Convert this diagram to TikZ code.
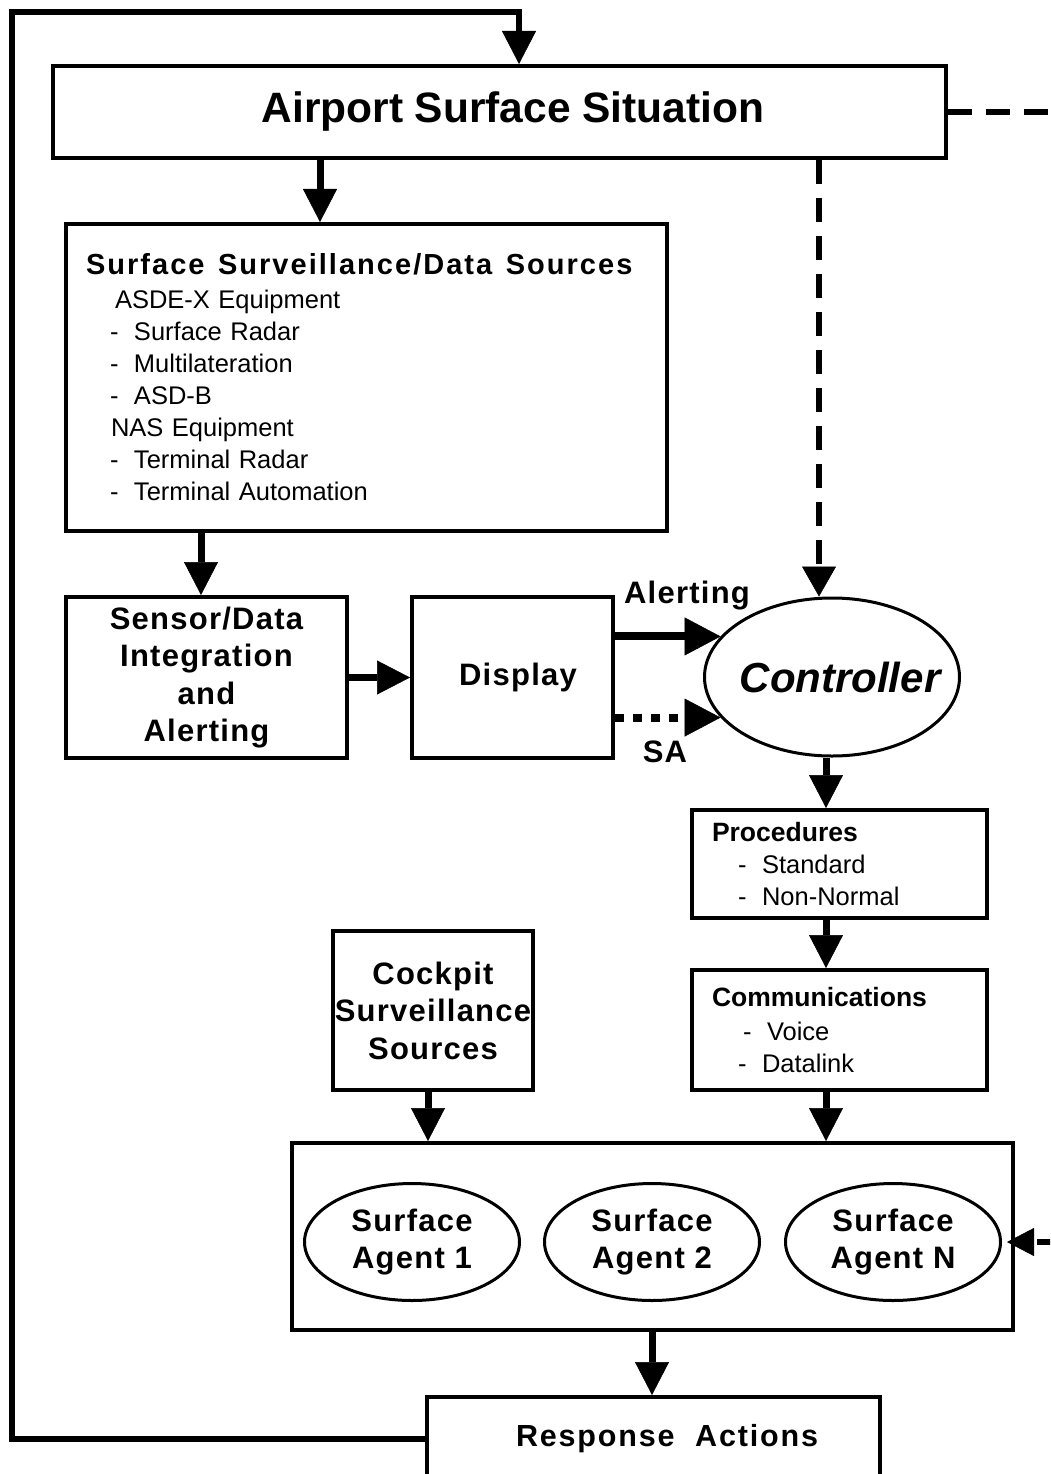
\documentclass[tikz,border=0pt]{standalone}
\usepackage{fontspec}
\setmainfont{Liberation Sans}
\newfontfamily\titlefamily[LetterSpace=7]{Liberation Sans}
\usetikzlibrary{arrows.meta,shapes.geometric}

% font sizes used in the chart
\newcommand\fbig{\fontsize{42.5}{50}\selectfont\bfseries}
\newcommand\fctl{\fontsize{42}{50}\selectfont\bfseries\itshape}
\newcommand\ftitle{\titlefamily\fontsize{29}{34}\selectfont\bfseries}
\newcommand\fmid{\fontsize{31}{37.5}\selectfont\bfseries\addfontfeature{LetterSpace=4}}
\newcommand\fresp{\fontsize{30.5}{36}\selectfont\bfseries\addfontfeature{LetterSpace=6}}
\newcommand\fsmall{\fontsize{26.5}{32}\selectfont\bfseries}
\newcommand\freg{\fontsize{25.5}{32}\selectfont}
% wider word gap for the letter-spaced heading
\newcommand\wsp{\ \hspace{5pt}}
% indented list entry: indent, dash, text
\newcommand\itm[2]{\hspace*{#1}\makebox[24pt][l]{-}#2}

\begin{document}
\begin{tikzpicture}[x=1pt,y=-1pt,
  box/.style={draw, line width=4pt, rectangle, inner sep=0pt},
  agent/.style={draw, ellipse, line width=3pt, minimum width=215, minimum height=117, inner sep=0pt},
  arr/.style={line width=7pt, -{Triangle[length=33pt,width=34pt,line width=0.5pt]}},
  arrL/.style={line width=8pt, -{Triangle[length=36pt,width=38pt,line width=0.5pt]}},
  dotarr/.style={line width=8pt, dash pattern=on 9pt off 9pt, -{Triangle[length=36pt,width=38pt,line width=0.5pt]}},
  dsh/.style={line width=6pt, dash pattern=on 24pt off 14pt},
  dsharr/.style={dsh, -{Triangle[length=30pt,width=34pt,line width=0.5pt]}},
  dsharrS/.style={dsh, -{Triangle[length=27pt,width=28pt,line width=0.5pt]}},
  loopln/.style={line width=6pt, line join=miter, -{Triangle[length=33pt,width=34pt,line width=0.5pt]}}
]
\useasboundingbox (0,0) rectangle (1050,1474);
\clip (0,0) rectangle (1050,1474);

% columns of the vertical connectors
\coordinate (xA) at (320,0);
\coordinate (xB) at (201,0);
\coordinate (xC) at (519,0);
\coordinate (xD) at (819,0);
\coordinate (xE) at (826,0);
\coordinate (xF) at (428,0);
\coordinate (xG) at (652,0);
\coordinate (lc) at (12,12);
\coordinate (rc) at (1066.5,0);

% boxes
\node[box, minimum width=893, minimum height=92, font=\fbig] (asit) at (499.5,112)
  {\hspace*{27pt}Airport Surface Situation};

\node[box, minimum width=601, minimum height=307, text width=561, align=left,
      inner xsep=20pt, font=\freg] (ssds) at (366.5,377.5)
  {{\ftitle Surface\wsp Surveillance/Data\wsp Sources}\\[2pt]
   \hspace*{29pt}ASDE-X Equipment\\
   \itm{24pt}{Surface Radar}\\
   \itm{24pt}{Multilateration}\\
   \itm{24pt}{ASD-B}\\
   \hspace*{25pt}NAS Equipment\\
   \itm{24pt}{Terminal Radar}\\
   \itm{24pt}{Terminal Automation}};

\node[box, minimum width=281, minimum height=161, align=center, font=\fmid] (sens) at (206.5,677.5)
  {Sensor/Data\\Integration\\and\\Alerting};

\node[box, minimum width=201, minimum height=161, font=\fmid] (disp) at (512.5,677.5)
  {\hspace*{11pt}Display};

\node[draw, ellipse, line width=3pt, minimum width=255, minimum height=158, inner sep=0pt,
      label={[font=\fctl, xshift=8pt]center:Controller}] (ctrl) at (832,677) {};

\node[box, minimum width=295, minimum height=108, text width=255, align=left,
      inner xsep=20pt, font=\freg] (proc) at (839.5,864)
  {{\fsmall Procedures}\\
   \itm{26pt}{Standard}\\
   \itm{26pt}{Non-Normal}};

\node[box, minimum width=295, minimum height=120, text width=255, align=left,
      inner xsep=20pt, font=\freg] (comm) at (839.5,1030)
  {{\fsmall Communications}\\[2pt]
   \itm{31pt}{Voice}\\
   \itm{26pt}{Datalink}};

\node[box, minimum width=200, minimum height=159, align=center, inner xsep=0pt, font=\fmid] (cock) at (433,1010.5)
  {Cockpit\\Surveillance\\Sources};

\node[box, minimum width=721, minimum height=187] (agents) at (652.5,1236.5) {};
\node[agent, label={[font=\fmid, align=center]center:Surface\\Agent 1}] (ag1) at (412,1242) {};
\node[agent, label={[font=\fmid, align=center]center:Surface\\Agent 2}] (ag2) at (652,1242) {};
\node[agent, label={[font=\fmid, align=center]center:Surface\\Agent N}] (agN) at (893,1242) {};

\node[box, minimum width=453, minimum height=83, font=\fresp] (resp) at (653.5,1438.5)
  {\hspace*{27pt}Response\ \ Actions};

% connector labels
\node[font=\fmid] (lalert) at (687,596) {Alerting};
\node[font=\fmid] (lsa) at (665,752) {SA};

% connectors
\draw[arr] (asit.south -| xA) -- (ssds.north -| xA);
\draw[arr] (ssds.south -| xB) -- (sens.north -| xB);
\draw[arr] (sens.east) -- (disp.west);
\draw[arrL] (ctrl.160 -| disp.east) -- (ctrl.160);
\draw[dotarr] (ctrl.200 -| disp.east) -- (ctrl.200);
\draw[dsharr] (asit.south -| xD) -- (ctrl.north -| xD);
\draw[arr] (ctrl.south -| xE) -- (proc.north -| xE);
\draw[arr] (proc.south -| xE) -- (comm.north -| xE);
\draw[arr] (comm.south -| xE) -- (agents.north -| xE);
\draw[arr] (cock.south -| xF) -- (agents.north -| xF);
\draw[arr] (agents.south -| xG) -- (resp.north -| xG);

% feedback loop from the response back to the surface situation
\draw[loopln] (resp.west) -| (lc) -| (asit.north -| xC);

% dashed link from the surface situation round to the agents
\draw[dsharrS] (asit.east) -- (asit.east -| rc) -- (agN.east -| rc) -- ([xshift=5pt]agN.east);
\end{tikzpicture}
\end{document}
